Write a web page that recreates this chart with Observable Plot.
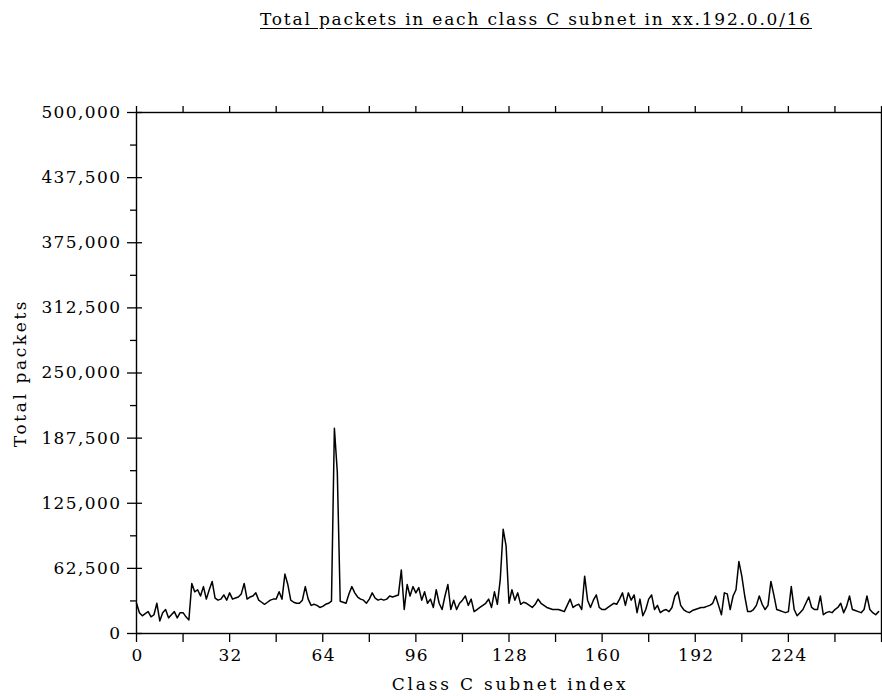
<!DOCTYPE html>
<html>
<head>
<meta charset="utf-8">
<script src="https://cdn.jsdelivr.net/npm/d3@7"></script>
<script src="https://cdn.jsdelivr.net/npm/@observablehq/plot@0.6"></script>
<style>
  html, body { margin: 0; padding: 0; background: #fff; }
  #wrap { position: relative; width: 882px; height: 696px; }
  #title { position: absolute; top: 9px; left: 190px; width: 692px; text-align: center;
    font-family: "DejaVu Serif", serif; font-size: 17px; letter-spacing: 1.8px; color: #000;
    text-decoration: underline; text-underline-offset: 3px; white-space: nowrap; }
  g[aria-label="y-axis tick label"] text { letter-spacing: 1.4px; }
  g[aria-label="x-axis tick label"] text { letter-spacing: 1.4px; }
</style>
</head>
<body>
<div id="wrap"><div id="title"></div></div>
<script>
const titleText = "Total packets in each class C subnet in xx.192.0.0/16";
const xLabel = "Class C subnet index";
const yLabel = "Total packets";

// total packets per class C subnet index 0..255
const totalPackets = [
  29000,20000,17000,19000,21000,16000,18000,29000,12000,20000,23000,15000,18000,21000,15000,20000,
  20000,16000,13000,48000,40000,42000,36000,45000,33000,42000,50000,34000,32000,33000,37000,32000,
  39000,33000,34000,35000,38000,48000,33000,35000,36000,39000,32000,30000,28000,30000,32000,33000,
  33000,40000,33000,57000,47000,32000,30000,29000,29000,32000,45000,33000,27000,28000,27000,25000,
  26000,28000,29000,31000,197000,155000,31000,30000,29000,38000,45000,39000,35000,33000,32000,29000,
  33000,39000,34000,32000,33000,32000,33000,36000,35000,36000,37000,61000,23000,47000,36000,45000,
  39000,44000,32000,40000,29000,33000,25000,42000,29000,23000,36000,47000,23000,32000,23000,29000,
  32000,36000,27000,33000,21000,23000,25000,27000,29000,33000,25000,40000,28000,52000,100000,84000,
  29000,42000,32000,39000,28000,30000,29000,27000,25000,28000,33000,29000,27000,25000,24000,23000,
  23000,23000,22000,21000,27000,33000,25000,27000,28000,23000,55000,32000,25000,32000,37000,25000,
  23000,23000,25000,27000,29000,28000,33000,39000,27000,39000,32000,37000,20000,33000,17000,23000,
  33000,37000,23000,27000,20000,22000,23000,21000,25000,36000,40000,27000,23000,21000,20000,22000,
  23000,24000,25000,25000,26000,27000,29000,36000,27000,18000,39000,38000,23000,36000,42000,69000,
  55000,36000,21000,21000,23000,27000,36000,28000,23000,27000,50000,37000,23000,22000,21000,20000,
  21000,45000,23000,17000,20000,23000,29000,35000,25000,23000,23000,36000,18000,20000,21000,20000,
  23000,25000,29000,20000,26000,36000,23000,22000,21000,20000,23000,36000,23000,20000,18000,21000
];
const subnetIndex = totalPackets.map((_, i) => i);

const xDomain = [0, 256];
const yDomain = [0, 500000];
const xTicksLabeled = [0, 32, 64, 96, 128, 160, 192, 224];
const xTicksAll = [0, 16, 32, 48, 64, 80, 96, 112, 128, 144, 160, 176, 192, 208, 224, 240, 256];
const yTicksMajor = [0, 62500, 125000, 187500, 250000, 312500, 375000, 437500, 500000];
const yTicksMinor = [31250, 93750, 156250, 218750, 281250, 343750, 406250, 468750];

const data = subnetIndex.map((i) => ({index: i, packets: totalPackets[i]}));
const blank = () => "";

document.getElementById("title").textContent = titleText;

const chart = Plot.plot({
  width: 882,
  height: 696,
  marginLeft: 136,
  marginRight: 1,
  marginTop: 112,
  marginBottom: 63,
  x: {domain: xDomain},
  y: {domain: yDomain},
  style: {fontFamily: "DejaVu Serif", fontSize: "17px", color: "#000", background: "transparent", overflow: "visible"},
  marks: [
    Plot.frame({stroke: "#000", strokeWidth: 1.4}),
    Plot.axisX(xTicksAll, {anchor: "bottom", tickSize: 9, tickFormat: blank, label: null, strokeWidth: 1.3}),
    Plot.axisX(xTicksLabeled, {anchor: "bottom", tickSize: 0, tickPadding: 15, tickFormat: d => String(d), label: null, fontSize: 17, dx: 1}),
    Plot.axisX(xTicksAll, {anchor: "top", tickSize: 7, tickFormat: blank, label: null, strokeWidth: 1.3}),
    Plot.axisY(yTicksMajor, {anchor: "left", tickSize: 15, dx: 6, tickFormat: blank, label: null, strokeWidth: 1.3}),
    Plot.axisY(yTicksMinor, {anchor: "left", tickSize: 6, tickFormat: blank, label: null, strokeWidth: 1.3}),
    Plot.axisY(yTicksMajor, {anchor: "left", tickSize: 0, tickPadding: 15, tickFormat: d3.format(","), label: null, fontSize: 17}),
    Plot.line(data, {x: "index", y: "packets", stroke: "#000", strokeWidth: 1.5}),
    Plot.text([xLabel], {frameAnchor: "bottom", dy: 56, dx: 1, fontSize: 17}),
    Plot.text([yLabel], {frameAnchor: "left", textAnchor: "middle", dx: -116, rotate: -90, fontSize: 17})
  ]
});
d3.select(chart).selectAll("text").each(function() {
  const t = this.textContent;
  if (t === xLabel) this.style.letterSpacing = "2.8px";
  if (t === yLabel) this.style.letterSpacing = "2.6px";
});
document.getElementById("wrap").appendChild(chart);
</script>
</body>
</html>
